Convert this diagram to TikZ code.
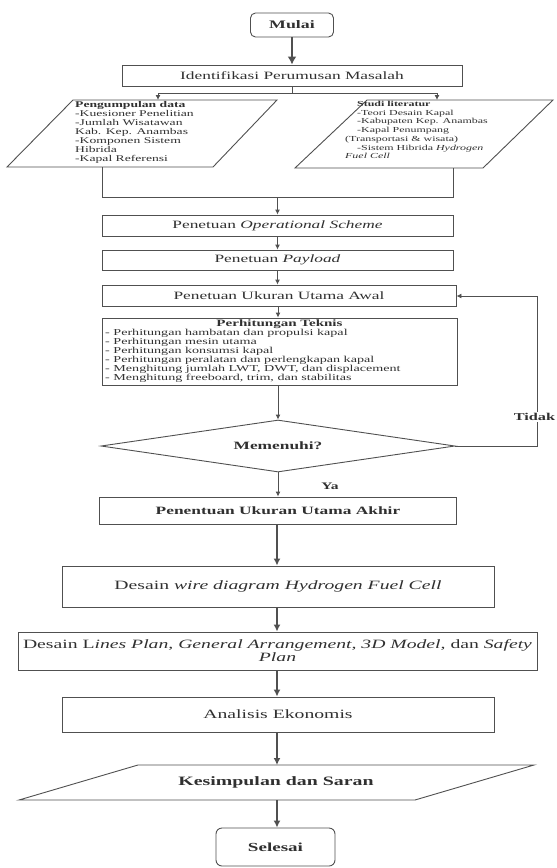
\documentclass[tikz,border=0pt]{standalone}
\usepackage{fontspec}
\setmainfont{Liberation Serif}[FakeStretch=1.55]
\usetikzlibrary{arrows.meta,shapes.geometric}
\definecolor{lncol}{HTML}{505050}
\definecolor{txcol}{HTML}{303030}
\newcommand\fz[2]{\fontsize{#1pt}{#2pt}\selectfont}
\begin{document}
\begin{tikzpicture}[x=1pt,y=-1pt,
  box/.style={draw=lncol, line width=0.9pt, rectangle, inner sep=0pt, text=txcol},
  term/.style={box, rounded corners=5pt},
  txt/.style={inner sep=0pt, text=txcol},
  conn/.style={draw=lncol, line width=0.9pt},
  arr/.style={draw=lncol, line width=0.9pt, -{Latex[length=5pt,width=5pt]}},
  arrb/.style={draw=lncol, line width=1.4pt, -{Latex[length=7pt,width=7pt]}},
  arrt/.style={draw=lncol, line width=2pt, -{Latex[length=8pt,width=9pt]}}
]
\useasboundingbox (0,0) rectangle (557,868);

% top
\node[term, minimum width=83pt, minimum height=24pt, font=\fz{11.5}{13}] (mulai) at (292,25) {\textbf{Mulai}};
\node[box, minimum width=340pt, minimum height=21pt, font=\fz{11.2}{13}] (ident) at (292,75.5) {Identifikasi Perumusan Masalah};
\draw[arrt] (mulai.south) -- (ident.north);

% branch
\coordinate (br) at (292,93);
\coordinate (brl) at (158,93);
\coordinate (brr) at (437,93);
\coordinate (lpt) at (158,100);
\coordinate (rpt) at (437,100);
\draw[conn] (ident.south) -- (br);
\draw[conn] (brl) -- (brr);
\draw[arr] (brl) -- (lpt);
\draw[arr] (brr) -- (rpt);

% left parallelogram
\coordinate (LP1) at (7,167);
\coordinate (LP2) at (73,100);
\coordinate (LP3) at (277,100);
\coordinate (LP4) at (213,167);
\draw[conn] (LP1) -- (LP2) -- (LP3) -- (LP4) -- cycle;
\node[txt, anchor=north west, align=left, font=\fz{8.8}{9}] (pd) at (75,101.5)
  {\textbf{Pengumpulan data}\\-Kuesioner Penelitian\\-Jumlah Wisatawan\\Kab. Kep. Anambas\\-Komponen Sistem\\Hibrida\\-Kapal Referensi};

% right parallelogram
\coordinate (RP1) at (295,168);
\coordinate (RP2) at (367,100);
\coordinate (RP3) at (553,100);
\coordinate (RP4) at (483,168);
\draw[conn] (RP1) -- (RP2) -- (RP3) -- (RP4) -- cycle;
\node[txt, anchor=north west, align=left, font=\fz{7.7}{8.7}] (sl) at (345,101)
  {\hspace*{12pt}\textbf{Studi literatur}\\\hspace*{12pt}-Teori Desain Kapal\\\hspace*{12pt}-Kabupaten Kep. Anambas\\\hspace*{12pt}-Kapal Penumpang\\(Transportasi \& wisata)\\\hspace*{12pt}-Sistem Hibrida \textit{Hydrogen}\\\textit{Fuel Cell}};

% merge
\coordinate (lb) at (102,167);
\coordinate (lbd) at (102,197);
\coordinate (rb) at (453,168);
\coordinate (rbd) at (453,197);
\coordinate (jn) at (277.5,197);
\draw[conn] (lb) -- (lbd) -- (rbd) -- (rb);

% middle column
\node[box, minimum width=351pt, minimum height=21pt, font=\fz{11.2}{13}] (op) at (277.5,225.5) {Penetuan \textit{Operational Scheme}};
\node[box, minimum width=351pt, minimum height=20pt, font=\fz{11.2}{13}] (pay) at (277.5,260) {Penetuan \textit{Payload}};
\node[box, minimum width=354pt, minimum height=21pt, font=\fz{11.2}{13}] (awal) at (279,295.5) {Penetuan Ukuran Utama Awal};
\draw[arr] (jn) -- (op.north);
\draw[arr] (op.south) -- (pay.north);
\draw[arr] (pay.south) -- (pay.south |- awal.north);

\node[box, minimum width=355pt, minimum height=67pt] (perh) at (279.5,351.5) {};
\node[txt, font=\fz{9.7}{10}] (perht) at (279.5,324) {\textbf{Perhitungan Teknis}};
\node[txt, anchor=north west, align=left, font=\fz{9.1}{9}] (perhl) at (105,329)
  {- Perhitungan hambatan dan propulsi kapal\\- Perhitungan mesin utama\\- Perhitungan konsumsi kapal\\- Perhitungan peralatan dan perlengkapan kapal\\- Menghitung jumlah LWT, DWT, dan displacement\\- Menghitung freeboard, trim, dan stabilitas};
\draw[arr] (awal.south -| 278,0) -- (perh.north -| 278,0);

\node[diamond, draw=lncol, line width=0.9pt, inner sep=0pt, aspect=6.8, minimum width=354pt, minimum height=52pt, text=txcol, font=\fz{11.2}{13}] (dia) at (278,446) {\textbf{Memenuhi?}};
\draw[arr] (perh.south -| dia.north) -- (dia.north);

\node[box, minimum width=357pt, minimum height=27pt, font=\fz{11.2}{13}] (akhir) at (278,510.5) {\textbf{Penentuan Ukuran Utama Akhir}};
\draw[arr] (dia.south) -- (dia.south |- akhir.north);
\node[txt, font=\fz{10}{12}] (ya) at (330,486) {\textbf{Ya}};

% feedback
\coordinate (fb1) at (537,446);
\coordinate (fb2) at (537,296);
\draw[conn] (dia.east) -- (fb1) -- (fb2);
\draw[arr] (fb2) -- (fb2 -| awal.east);
\node[txt, fill=white, inner sep=1pt, font=\fz{10.5}{12}] (tidak) at (534.5,417) {\textbf{Tidak}};

% lower column
\node[box, minimum width=432pt, minimum height=41pt, font=\fz{12.7}{13}] (wire) at (278,586.5) {Desain \textit{wire diagram Hydrogen Fuel Cell}};
\node[box, minimum width=519pt, minimum height=38pt, align=center, font=\fz{12.7}{13}] (lines) at (277.5,651) {Desain L\textit{ines Plan, General Arrangement, 3D Model,} dan \textit{Safety}\\\textit{Plan}};
\node[box, minimum width=432pt, minimum height=35pt, font=\fz{12.7}{13}] (ana) at (278,714.5) {Analisis Ekonomis};
\draw[arrb] (akhir.south -| 277,0) -- (wire.north -| 277,0);
\draw[arrb] (wire.south -| 277,0) -- (lines.north -| 277,0);
\draw[arrb] (lines.south -| 277,0) -- (ana.north -| 277,0);

\coordinate (KP1) at (19,800);
\coordinate (KP2) at (138,765);
\coordinate (KP3) at (534,765);
\coordinate (KP4) at (415,800);
\draw[conn] (KP1) -- (KP2) -- (KP3) -- (KP4) -- cycle;
\node[txt, font=\fz{12.8}{14}] (kes) at (276,782.5) {\textbf{Kesimpulan dan Saran}};
\coordinate (kt) at (277,765);
\coordinate (kb) at (277,800);
\draw[arrb] (ana.south -| kt) -- (kt);

\node[term, rounded corners=6pt, minimum width=119pt, minimum height=38pt, font=\fz{12.3}{14}] (sel) at (275.5,847) {\textbf{Selesai}};
\draw[arrb] (kb) -- (kb |- sel.north);
\end{tikzpicture}
\end{document}
